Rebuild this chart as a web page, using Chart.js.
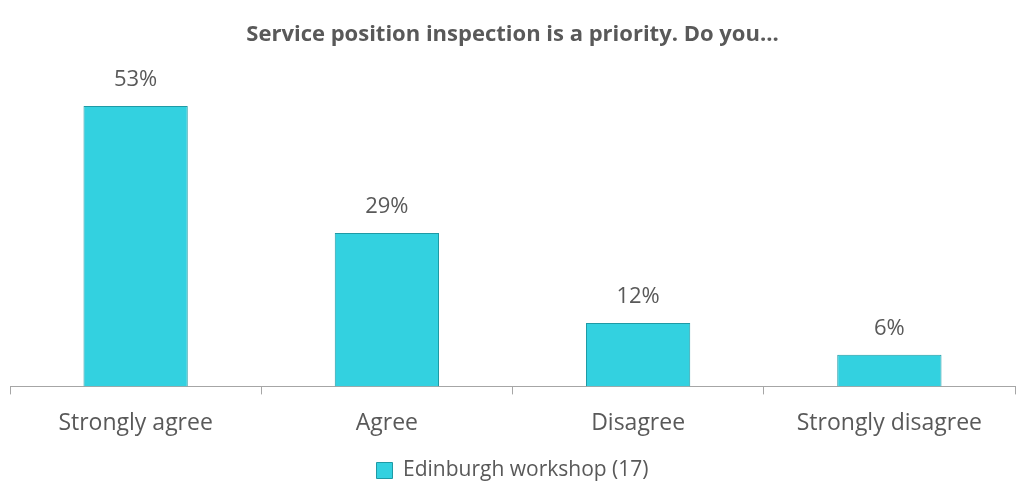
<!DOCTYPE html>
<html>
<head>
<meta charset="utf-8">
<script src="https://cdn.jsdelivr.net/npm/chart.js@4"></script>
<style>
  html, body { margin: 0; padding: 0; background: #fff; }
  #wrap { width: 1034px; height: 492px; }
</style>
</head>
<body>
<div id="wrap"><canvas id="myChart"></canvas></div>
<script>
var categories = ['Strongly agree', 'Agree', 'Disagree', 'Strongly disagree'];
var values = [53, 29, 12, 6];
var seriesName = 'Edinburgh workshop (17)';

var valueLabels = {
    id: 'valueLabels',
    afterDatasetsDraw(chart) {
        var ctx = chart.ctx;
        var meta = chart.getDatasetMeta(0);
        ctx.save();
        ctx.fillStyle = '#595959';
        ctx.font = '22px "Open Sans"';
        ctx.textAlign = 'center';
        ctx.textBaseline = 'middle';
        meta.data.forEach(function (bar, i) {
            ctx.fillText(values[i] + '%', bar.x, bar.y - 26);
        });
        ctx.restore();
    }
};

const ctx = document.getElementById('myChart');
new Chart(ctx, {
    type: 'bar',
    data: {
        labels: categories,
        datasets: [{
            label: seriesName,
            data: values,
            backgroundColor: '#33d1e0',
            borderColor: '#1f9aa5',
            borderWidth: 1,
            categoryPercentage: 0.415,
            barPercentage: 1
        }]
    },
    options: {
        responsive: true,
        maintainAspectRatio: false,
        animation: false,
        layout: { padding: { left: 10, right: 19, top: 0, bottom: 1 } },
        plugins: {
            title: {
                display: true,
                text: 'Service position inspection is a priority. Do you...',
                color: '#595959',
                font: { family: '"Open Sans"', size: 22, weight: 'bold' },
                padding: { top: 22, bottom: 18 }
            },
            legend: {
                position: 'bottom',
                labels: {
                    color: '#595959',
                    font: { family: '"Open Sans"', size: 21 },
                    boxWidth: 16,
                    boxHeight: 16,
                    padding: 8
                }
            },
            tooltip: { enabled: false }
        },
        scales: {
            y: {
                display: false,
                min: 0,
                max: 60.5
            },
            x: {
                offset: true,
                border: { color: '#a6a6a6', width: 1 },
                grid: {
                    display: true,
                    drawOnChartArea: false,
                    drawTicks: true,
                    tickLength: 8,
                    color: '#a6a6a6',
                    offset: true
                },
                ticks: {
                    color: '#595959',
                    font: { family: '"Open Sans"', size: 23 },
                    padding: 15
                }
            }
        }
    },
    plugins: [valueLabels]
});
</script>
</body>
</html>
